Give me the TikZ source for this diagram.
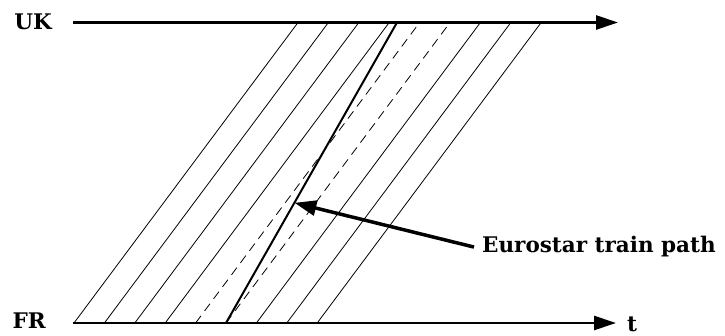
\documentclass[tikz,border=0pt]{standalone}
\usepackage{fontspec}
\setmainfont{DejaVu Serif}
\usetikzlibrary{arrows.meta, positioning, calc}
\tikzstyle{axis} = [line width=2.7pt,-{Triangle[length=22pt,width=14pt]}]

\begin{document}
\begin{tikzpicture}[
    x=1pt, y=-1pt,
    lbl/.style={font=\fontsize{21.5}{25}\selectfont\bfseries, inner sep=0pt},
    slot/.style={line width=0.8pt},
    spare/.style={slot, dash pattern=on 9pt off 6pt},
    train/.style={line width=2pt},
    pointer/.style={line width=3.5pt, -{Triangle[length=22pt,width=15pt]}}
]
    \useasboundingbox (0,0) rectangle (725,336);

    % the two ends of the line
    \coordinate (uk0) at (73,22.5);
    \coordinate (uk1) at (618,22.5);
    \coordinate (fr0) at (73,323);
    \coordinate (fr1) at (616,323);
    \node[lbl, anchor=base east] (uk) at (52,30) {UK};
    \node[lbl, anchor=base east] (fr) at (46,329) {FR};
    \node[lbl, anchor=base west] (time) at (627,331) {t};

    % paths of the other trains
    \foreach \i in {0,1,2,3,6,7,8}
        \draw[slot] (74+30.4*\i,323) -- (298+30.4*\i,22.5);
    \foreach \i in {4,5}
        \draw[spare] (74+30.4*\i,323) -- (298+30.4*\i,22.5);

    % the Eurostar
    \coordinate (trainbot) at (226,323);
    \coordinate (traintop) at (397,22.5);
    \draw[train] (trainbot) -- (traintop);
    \coordinate (hit) at ($(trainbot)!0.4!(traintop)$);

    \draw[axis] (uk0) -- (uk1);
    \draw[axis] (fr0) -- (fr1);

    \node[lbl, anchor=base west] (eurostar) at (482,253) {Eurostar train path};
    \draw[pointer] ([xshift=-8pt]eurostar.west) -- (hit);
\end{tikzpicture}
\end{document}
